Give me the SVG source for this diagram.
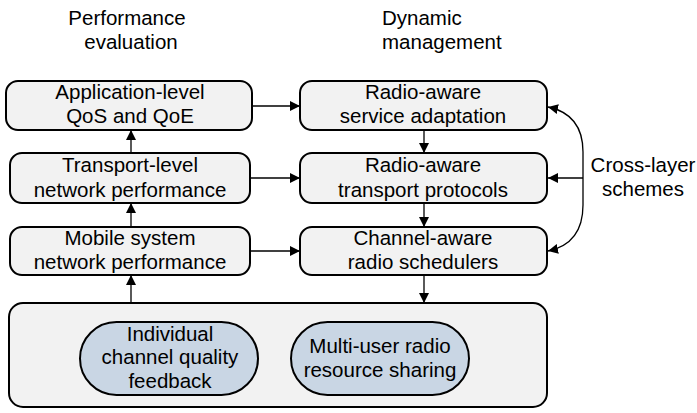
<svg xmlns="http://www.w3.org/2000/svg" width="697" height="413" viewBox="0 0 697 413">
  <style>
    text { font-family: "Liberation Sans", Arial, sans-serif; font-size: 20.5px; fill: #000; text-anchor: middle; }
    .box { fill: #f2f2f2; stroke: #000; stroke-width: 2; }
    .pill { fill: #c9d6e4; stroke: #000; stroke-width: 2; }
    .conn { stroke: #000; stroke-width: 1.3; fill: none; }
  </style>
  <defs>
    <marker id="arrow" viewBox="0 0 10 10" refX="10" refY="5" markerWidth="10" markerHeight="10" markerUnits="userSpaceOnUse" orient="auto-start-reverse">
      <path d="M0,0 L10,5 L0,10 z" fill="#000"/>
    </marker>
  </defs>

  <!-- column headings -->
  <g id="heading-performance">
    <text x="127" y="25">Performance</text>
    <text x="131" y="49">evaluation</text>
  </g>
  <g id="heading-management">
    <text x="382" y="25" style="text-anchor:start">Dynamic</text>
    <text x="382" y="49" style="text-anchor:start">management</text>
  </g>

  <!-- performance evaluation column -->
  <g id="app-qos">
    <rect class="box" x="6" y="81" width="246" height="49" rx="12"/>
    <text x="130" y="99">Application-level</text>
    <text x="130" y="123">QoS and QoE</text>
  </g>
  <g id="transport-perf">
    <rect class="box" x="10" y="153" width="240" height="50" rx="12"/>
    <text x="130" y="172">Transport-level</text>
    <text x="130" y="197">network performance</text>
  </g>
  <g id="mobile-perf">
    <rect class="box" x="10" y="227" width="240" height="48" rx="12"/>
    <text x="130" y="245">Mobile system</text>
    <text x="130" y="269">network performance</text>
  </g>

  <!-- dynamic management column -->
  <g id="service-adaptation">
    <rect class="box" x="300" y="81" width="247" height="49" rx="12"/>
    <text x="423" y="99">Radio-aware</text>
    <text x="423" y="123">service adaptation</text>
  </g>
  <g id="transport-protocols">
    <rect class="box" x="300" y="153" width="247" height="50" rx="12"/>
    <text x="423" y="172">Radio-aware</text>
    <text x="423" y="197">transport protocols</text>
  </g>
  <g id="radio-schedulers">
    <rect class="box" x="300" y="227" width="247" height="48" rx="12"/>
    <text x="423" y="245">Channel-aware</text>
    <text x="423" y="269">radio schedulers</text>
  </g>

  <!-- radio layer -->
  <g id="radio-layer">
    <rect class="box" x="9" y="303" width="538" height="104" rx="14"/>
  </g>
  <g id="channel-feedback">
    <rect class="pill" x="80" y="322" width="178" height="73" rx="36.5"/>
    <text x="170" y="341">Individual</text>
    <text x="170" y="364">channel quality</text>
    <text x="170" y="388">feedback</text>
  </g>
  <g id="resource-sharing">
    <rect class="pill" x="291" y="322" width="178" height="73" rx="36.5"/>
    <text x="380" y="353">Multi-user radio</text>
    <text x="380" y="377">resource sharing</text>
  </g>

  <g id="cross-layer-label">
    <text x="643" y="172">Cross-layer</text>
    <text x="643" y="196">schemes</text>
  </g>

  <!-- connectors -->
  <g id="connectors">
    <line class="conn" x1="131" y1="303" x2="131" y2="275" marker-end="url(#arrow)"/>
    <line class="conn" x1="131" y1="227" x2="131" y2="203" marker-end="url(#arrow)"/>
    <line class="conn" x1="131" y1="153" x2="131" y2="130" marker-end="url(#arrow)"/>

    <line class="conn" x1="252" y1="106" x2="300" y2="106" marker-end="url(#arrow)"/>
    <line class="conn" x1="250" y1="178" x2="300" y2="178" marker-end="url(#arrow)"/>
    <line class="conn" x1="250" y1="251" x2="300" y2="251" marker-end="url(#arrow)"/>

    <line class="conn" x1="424" y1="130" x2="424" y2="153" marker-end="url(#arrow)"/>
    <line class="conn" x1="424" y1="203" x2="424" y2="227" marker-end="url(#arrow)"/>
    <line class="conn" x1="424" y1="275" x2="424" y2="303" marker-end="url(#arrow)"/>

    <path class="conn" d="M548,107 C572,112 583,128 583,152 L583,205 C583,230 572,246 548,251" marker-start="url(#arrow)" marker-end="url(#arrow)"/>
    <line class="conn" x1="583" y1="178" x2="548" y2="178" marker-end="url(#arrow)"/>
  </g>
</svg>
